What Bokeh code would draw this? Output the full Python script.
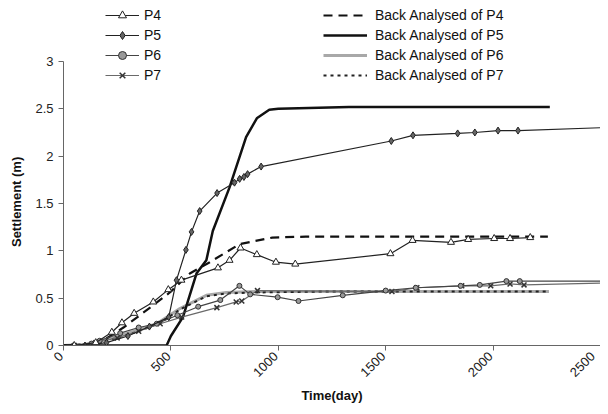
import math
from bokeh.plotting import figure
from bokeh.models import Range1d, FixedTicker, Legend, LegendItem
from bokeh.embed import file_html
from bokeh.resources import INLINE

# ---- data ----
p4_day = [50, 150, 225, 272, 329, 418, 488, 549, 719, 773, 824, 900, 989, 1079, 1522, 1625, 1804, 1884, 2005, 2079, 2173]
p4_set = [0.0, 0.03, 0.14, 0.24, 0.34, 0.46, 0.59, 0.69, 0.82, 0.90, 1.03, 0.96, 0.88, 0.86, 0.97, 1.11, 1.09, 1.12, 1.13, 1.13, 1.14]

p5_day = [100, 200, 300, 400, 490, 526, 570, 596, 634, 715, 796, 820, 840, 857, 920, 1526, 1627, 1835, 1915, 2023, 2116]
p5_set = [0.0, 0.03, 0.10, 0.20, 0.30, 0.69, 1.01, 1.20, 1.42, 1.61, 1.72, 1.76, 1.78, 1.81, 1.89, 2.16, 2.22, 2.24, 2.25, 2.27, 2.27]
p5_tail_day = [2116, 2500]
p5_tail_set = [2.27, 2.30]

p6_day = [50, 130, 168, 264, 350, 434, 530, 627, 730, 819, 869, 997, 1094, 1300, 1500, 1640, 1849, 1938, 2062, 2124]
p6_set = [0.0, 0.02, 0.05, 0.13, 0.19, 0.23, 0.32, 0.41, 0.48, 0.63, 0.54, 0.51, 0.47, 0.53, 0.58, 0.61, 0.63, 0.64, 0.68, 0.68]
p6_tail_day = [2124, 2500]
p6_tail_set = [0.68, 0.68]

p7_day = [50, 150, 250, 350, 450, 550, 714, 804, 830, 903, 1529, 1645, 1854, 1989, 2079, 2144]
p7_set = [0.0, 0.03, 0.08, 0.15, 0.23, 0.30, 0.40, 0.46, 0.47, 0.58, 0.57, 0.61, 0.63, 0.63, 0.65, 0.64]
p7_tail_day = [2144, 2500]
p7_tail_set = [0.64, 0.66]

ba4_day = [0, 150, 279, 403, 495, 588, 681, 819, 972, 1128, 2255]
ba4_set = [0.0, 0.0, 0.19, 0.40, 0.56, 0.76, 0.88, 1.07, 1.14, 1.15, 1.15]

ba5_day = [0, 480, 500, 556, 619, 665, 695, 773, 850, 900, 958, 1000, 1329, 2264]
ba5_set = [0.0, 0.0, 0.1, 0.30, 0.76, 0.90, 1.21, 1.67, 2.20, 2.40, 2.49, 2.50, 2.52, 2.52]

ba6_day = [0, 100, 200, 300, 434, 542, 665, 758, 900, 1200, 2260]
ba6_set = [0.0, 0.01, 0.07, 0.13, 0.23, 0.39, 0.53, 0.56, 0.57, 0.57, 0.57]

ba7_day = [0, 150, 250, 350, 450, 542, 665, 758, 900, 1200, 2260]
ba7_set = [0.0, 0.02, 0.08, 0.15, 0.24, 0.38, 0.52, 0.55, 0.56, 0.57, 0.57]

x_ticks = [0, 500, 1000, 1500, 2000, 2500]
x_tick_labels = ["0", "500", "1000", "1500", "2000", "2500"]
y_ticks = [0, 0.5, 1, 1.5, 2, 2.5, 3]
y_tick_labels = ["0", "0.5", "1", "1.5", "2", "2.5", "3"]

FONT = "Liberation Sans"
NB = "\u00a0"

# y range extends above 3 so the legend (which overlaps the top of the plot) fits in the frame;
# the axis itself is bounded to 0..3
p = figure(width=600, height=406, output_backend="svg", toolbar_location=None,
           x_range=Range1d(0, 2500), y_range=Range1d(0, 3.644),
           min_border_left=63, min_border_right=0, min_border_top=0, min_border_bottom=61)
p.outline_line_color = None
p.grid.visible = False
p.background_fill_color = "white"

for ax in (p.xaxis[0], p.yaxis[0]):
    ax.axis_line_color = "#666666"
    ax.major_tick_line_color = "#666666"
    ax.minor_tick_line_color = None
    ax.major_tick_in = 0
    ax.major_tick_out = 5
    ax.major_label_text_font = FONT
    ax.major_label_text_font_size = "13px"
    ax.major_label_text_color = "#222222"
    ax.axis_label_text_font = FONT
    ax.axis_label_text_font_size = "13px"
    ax.axis_label_text_font_style = "bold"
    ax.axis_label_text_color = "#111111"

p.xaxis.ticker = FixedTicker(ticks=x_ticks)
p.xaxis.major_label_orientation = math.pi / 4
p.xaxis.major_label_overrides = {t: s + NB for t, s in zip(x_ticks, x_tick_labels)}
p.xaxis.major_label_standoff = 1
p.xaxis.axis_label = "Time(day)"
p.xaxis.axis_label_standoff = 0
p.yaxis.ticker = FixedTicker(ticks=y_ticks)
p.yaxis.bounds = (0, 3)
p.yaxis.major_label_overrides = {t: s for t, s in zip(y_ticks, y_tick_labels)}
p.yaxis.axis_label = "Settlement (m)" + NB * 16
p.yaxis.axis_label_standoff = 8

# back-analysed curves
r_ba6 = p.line(ba6_day, ba6_set, line_color="#a8a8a8", line_width=3)
r_ba7 = p.line(ba7_day, ba7_set, line_color="#222222", line_width=2, line_dash="3 4")
r_ba4 = p.line(ba4_day, ba4_set, line_color="#111111", line_width=2.2, line_dash="9 6")
r_ba5 = p.line(ba5_day, ba5_set, line_color="#111111", line_width=2.5)

# measured curves
r_p7l = p.line(p7_day, p7_set, line_color="#6a6a6a", line_width=1.2)
p.line(p7_tail_day, p7_tail_set, line_color="#6a6a6a", line_width=1.2)
r_p7m = p.scatter(p7_day, p7_set, marker="x", size=7, line_color="#333333", line_width=1.5)

r_p6l = p.line(p6_day, p6_set, line_color="#444444", line_width=1.2)
p.line(p6_tail_day, p6_tail_set, line_color="#444444", line_width=1.2)
r_p6m = p.scatter(p6_day, p6_set, marker="circle", size=5, fill_color="#999999", line_color="#333333", line_width=1)

r_p5l = p.line(p5_day, p5_set, line_color="#222222", line_width=1.2)
p.line(p5_tail_day, p5_tail_set, line_color="#222222", line_width=1.2)
r_p5m = p.scatter(p5_day, p5_set, marker="diamond", size=7, fill_color="#666666", line_color="#222222", line_width=1)

r_p4l = p.line(p4_day, p4_set, line_color="#222222", line_width=1.2)
r_p4m = p.scatter(p4_day, p4_set, marker="triangle", size=7, fill_color="white", line_color="#222222", line_width=1)

def make_legend(items, loc, gw, standoff):
    return Legend(items=items, location=loc, orientation="vertical",
                  glyph_width=gw, glyph_height=20, label_height=20, spacing=0,
                  padding=0, margin=0, label_standoff=standoff,
                  border_line_color=None, background_fill_alpha=0,
                  label_text_font=FONT, label_text_font_size="14px",
                  label_text_color="#111111")

left_items = [
    LegendItem(label="P4", renderers=[r_p4l, r_p4m]),
    LegendItem(label="P5", renderers=[r_p5l, r_p5m]),
    LegendItem(label="P6", renderers=[r_p6l, r_p6m]),
    LegendItem(label="P7", renderers=[r_p7l, r_p7m]),
]
right_items = [
    LegendItem(label="Back Analysed of P4", renderers=[r_ba4]),
    LegendItem(label="Back Analysed of P5", renderers=[r_ba5]),
    LegendItem(label="Back Analysed of P6", renderers=[r_ba6]),
    LegendItem(label="Back Analysed of P7", renderers=[r_ba7]),
]
p.add_layout(make_legend(left_items, (42, 260), 34, 5), "center")
p.add_layout(make_legend(right_items, (260, 260), 44, 8), "center")

open("out.html", "w").write(file_html(p, INLINE))
